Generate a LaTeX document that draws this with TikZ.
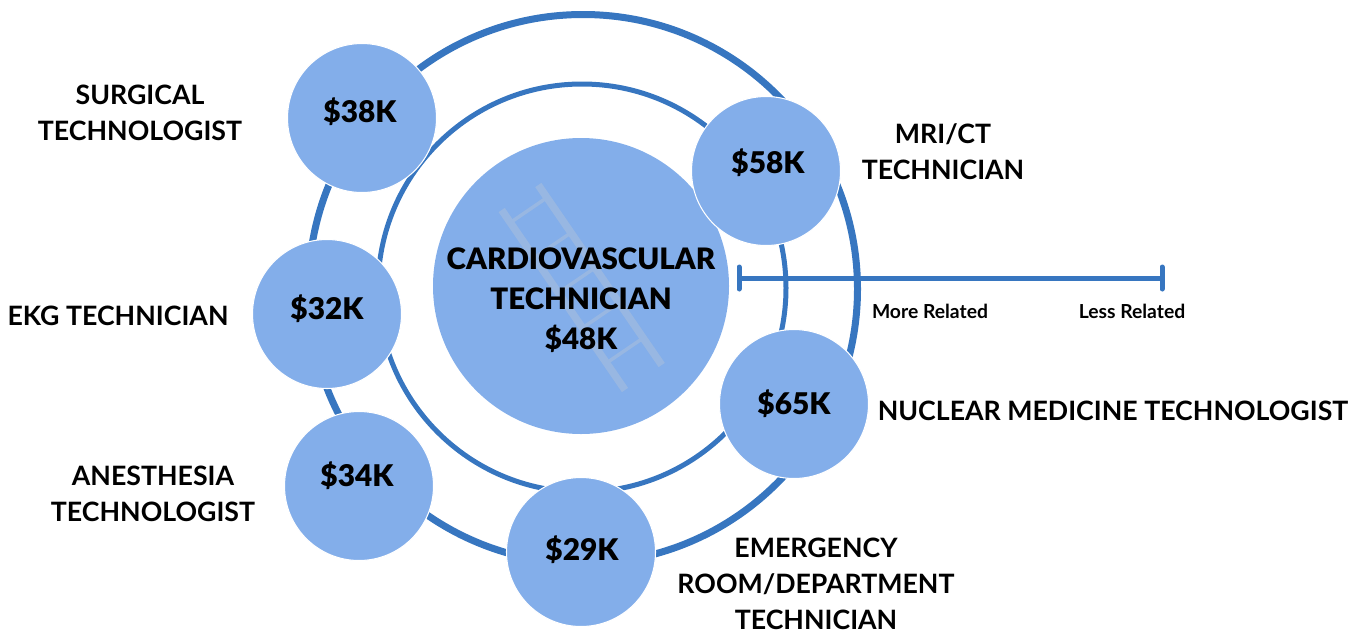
\documentclass[tikz,border=0pt]{standalone}
\usepackage{fontspec}
\setmainfont{Lato}[BoldFont={Lato Black}]
\newfontfamily\labelfont{Lato}[UprightFont={* Bold}]
\usetikzlibrary{positioning,calc}
\definecolor{ringblue}{HTML}{3776C0}
\definecolor{discblue}{HTML}{83AEEA}
\definecolor{ladderblue}{HTML}{98B7E2}
\tikzset{
    payball/.style={circle,fill=discblue,draw=white,line width=0.6pt,minimum size=149*0.02cm,inner sep=0pt},
    paytext/.style={font=\fontsize{17}{18}\selectfont\bfseries},
    joblabel/.style={align=center,font=\fontsize{15.2}{20.4}\selectfont\labelfont},
    scalelabel/.style={font=\fontsize{11}{12}\selectfont\labelfont},
    ring/.style={circle,draw=ringblue,inner sep=0pt}
}
\begin{document}
\begin{tikzpicture}[x=0.02cm,y=-0.02cm]
\useasboundingbox (0,0) rectangle (1366,629);

% rings
\node[ring,line width=7*0.02cm,minimum size=549*0.02cm] (outer) at (583,289) {};
\node[ring,line width=5*0.02cm,minimum size=408*0.02cm] (inner) at (582,288) {};

% centre disc
\node[circle,fill=discblue,minimum size=296*0.02cm,inner sep=0pt] (centre) at (581,286) {};

% ladder
\coordinate (railAtop) at (501.7,210);
\coordinate (railAbot) at (625,390);
\coordinate (railBtop) at (538.3,185);
\coordinate (railBbot) at (661.7,365);
\draw[ladderblue,line width=7.5*0.02cm] (railAtop) -- (railAbot);
\draw[ladderblue,line width=7.5*0.02cm] (railBtop) -- (railBbot);
\foreach \t in {0.07,0.265,0.46,0.655,0.85}
    \draw[ladderblue,line width=3.5*0.02cm] ($(railAtop)!\t!(railAbot)$) -- ($(railBtop)!\t!(railBbot)$);

\node[align=center,font=\fontsize{16.8}{22.7}\selectfont\bfseries] (centretext) at (581,300) {CARDIOVASCULAR\\TECHNICIAN\\\$48K};

% salary discs
\node[payball] (surgical) at (362,118) {};
\node[paytext] (surgicalpay) at (360,112) {\$38K};
\node[payball] (mri) at (766,171) {};
\node[paytext] (mripay) at (768,163) {\$58K};
\node[payball] (ekg) at (327,314) {};
\node[paytext] (ekgpay) at (327,309) {\$32K};
\node[payball] (nuclear) at (794,404) {};
\node[paytext] (nuclearpay) at (794,404) {\$65K};
\node[payball] (anesthesia) at (359,486) {};
\node[paytext] (anesthesiapay) at (357,476) {\$34K};
\node[payball] (emergency) at (581,552) {};
\node[paytext] (emergencypay) at (582,550) {\$29K};

% job names
\node[joblabel] (surgicaltext) at (140,112.5) {SURGICAL\\TECHNOLOGIST};
\node[joblabel] (mritext) at (943,151.5) {MRI/CT\\TECHNICIAN};
\node[joblabel] (ekgtext) at (118,315.5) {EKG TECHNICIAN};
\node[joblabel] (nucleartext) at (1113,411) {NUCLEAR MEDICINE TECHNOLOGIST};
\node[joblabel] (anesthesiatext) at (153,494) {ANESTHESIA\\TECHNOLOGIST};
\node[joblabel] (emergencytext) at (816,584) {EMERGENCY\\ROOM/DEPARTMENT\\TECHNICIAN};

% scale
\coordinate (more) at (739,278);
\coordinate (less) at (1162,278);
\draw[ringblue,line width=5*0.02cm] (more) -- (less);
\draw[ringblue,line width=5*0.02cm,line cap=round] ([yshift=11*0.02cm]more) -- ([yshift=-11*0.02cm]more);
\draw[ringblue,line width=5*0.02cm,line cap=round] ([yshift=11*0.02cm]less) -- ([yshift=-11*0.02cm]less);
\node[scalelabel] (moretext) at (930,311) {More Related};
\node[scalelabel] (lesstext) at (1132,311) {Less Related};
\end{tikzpicture}
\end{document}
